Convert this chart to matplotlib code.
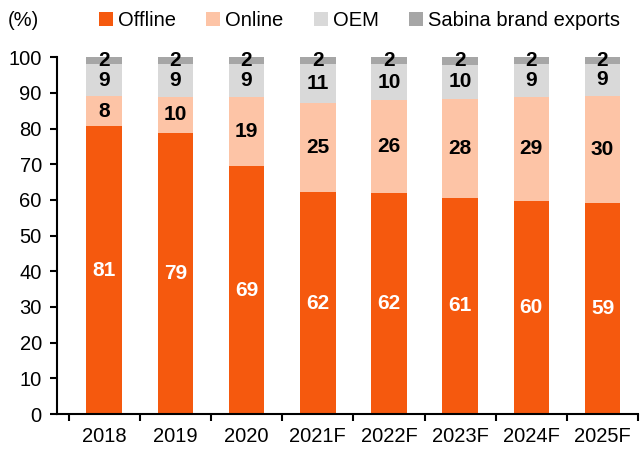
import matplotlib.pyplot as plt
import numpy as np

plt.rcParams['font.family'] = ['Liberation Sans', 'DejaVu Sans']

# Data (shares in %)
years = ['2018', '2019', '2020', '2021F', '2022F', '2023F', '2024F', '2025F']
offline = [80.6, 78.8, 69.4, 62.2, 61.9, 60.6, 59.8, 59.2]
online = [8.4, 10.0, 19.3, 25.0, 26.0, 27.6, 29.0, 30.0]
oem = [9.0, 9.2, 9.3, 10.8, 10.1, 9.7, 9.2, 8.8]
exports = [2.0, 2.0, 2.0, 2.0, 2.0, 2.1, 2.0, 2.0]

series = [
    ('Offline', offline, '#F5590E', 'white'),
    ('Online', online, '#FDC4A6', 'black'),
    ('OEM', oem, '#D9D9D9', 'black'),
    ('Sabina brand exports', exports, '#A6A6A6', 'black'),
]

fig = plt.figure(figsize=(6.42, 4.5), dpi=100)
ax = fig.add_axes([0.089, 0.08, 0.905, 0.793])

x = np.arange(len(years))
bottom = np.zeros(len(years))
for name, vals, color, tcolor in series:
    vals = np.array(vals)
    ax.bar(x, vals, 0.5, bottom=bottom, color=color, label=name)
    for xi, b, v in zip(x, bottom, vals):
        ax.text(xi, b + v / 2, f'{round(v):d}', ha='center', va='center',
                fontsize=15, fontweight='bold', color=tcolor)
    bottom += vals

ax.set_xlim(-0.66, 7.42)
ax.set_ylim(0, 100)
ax.set_yticks(range(0, 101, 10))
ax.set_xticks(x)
ax.set_xticklabels(years)
ax.set_xticks(np.arange(-0.5, len(years) - 0.4, 1), minor=True)
ax.tick_params(axis='x', which='major', length=0, labelsize=14.5, pad=9)
ax.tick_params(axis='x', which='minor', length=5, width=1.5, direction='out')
ax.tick_params(axis='y', length=5, width=1.5, labelsize=14.5, pad=6)
for s in ['top', 'right']:
    ax.spines[s].set_visible(False)
for s in ['left', 'bottom']:
    ax.spines[s].set_linewidth(1.5)

fig.text(0.012, 0.955, '(%)', fontsize=14.5, va='center', ha='left')
fig.legend(loc='center', bbox_to_anchor=(0.56, 0.955), ncol=4, frameon=False,
           fontsize=14.5, handlelength=0.7, handleheight=0.7, handletextpad=0.25,
           columnspacing=1.5, borderaxespad=0)

fig.savefig('out.png', dpi=100)
